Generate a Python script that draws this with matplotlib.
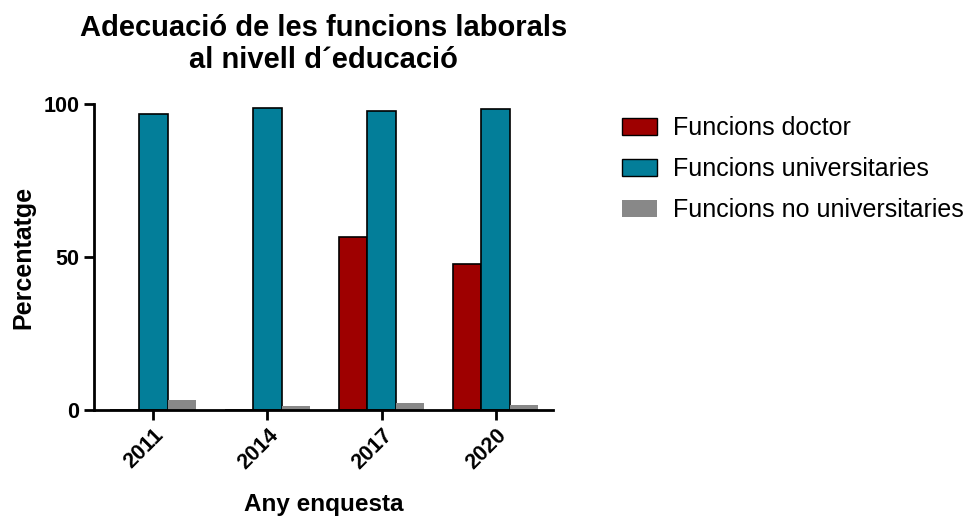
import matplotlib.pyplot as plt
from matplotlib.patches import Patch
import numpy as np

plt.rcParams['font.family'] = ['Liberation Sans', 'DejaVu Sans']

# dades
anys = ['2011', '2014', '2017', '2020']
doctor = [0, 0, 56.6, 47.8]
universitaries = [96.7, 98.8, 97.7, 98.4]
no_universitaries = [3.2, 1.4, 2.2, 1.5]
series_noms = ['Funcions doctor', 'Funcions universitaries', 'Funcions no universitaries']
colors = ['#9E0000', '#037E99', '#888888']

fig = plt.figure(figsize=(9.68, 5.23), dpi=100)
ax = fig.add_axes([0.097, 0.216, 0.474, 0.585])

x = np.arange(len(anys))
w = 0.25
ax.bar(x - w, doctor, w, color=colors[0], edgecolor='black', linewidth=1.2)
ax.bar(x, universitaries, w, color=colors[1], edgecolor='black', linewidth=1.2)
ax.bar(x + w, no_universitaries, w, color=colors[2], linewidth=0)

ax.set_xlim(-0.52, 3.5)
ax.set_ylim(0, 100)
ax.set_yticks([0, 50, 100])
ax.set_xticks(x)
ax.set_xticklabels(anys, rotation=45, ha='right', rotation_mode='anchor')

for s in ['top', 'right']:
    ax.spines[s].set_visible(False)
for s in ['left', 'bottom']:
    ax.spines[s].set_linewidth(2)
ax.tick_params(width=2, length=7, labelsize=15.5)
for lab in ax.get_xticklabels() + ax.get_yticklabels():
    lab.set_fontweight('bold')

ax.set_ylabel('Percentatge', fontsize=18, fontweight='bold', labelpad=6)
ax.set_xlabel('Any enquesta', fontsize=17.5, fontweight='bold', labelpad=14)
ax.set_title('Adecuació de les funcions laborals\nal nivell d´educació',
             fontsize=21, fontweight='bold', pad=26)

handles = [Patch(facecolor=colors[0], edgecolor='black'),
           Patch(facecolor=colors[1], edgecolor='black'),
           Patch(facecolor=colors[2], edgecolor='none')]
fig.legend(handles, series_noms, loc='upper left', bbox_to_anchor=(0.632, 0.797),
           frameon=False, fontsize=18, handlelength=1.4, handleheight=0.7,
           labelspacing=0.68, handletextpad=0.64, borderaxespad=0)

fig.savefig('out.png', dpi=100)
